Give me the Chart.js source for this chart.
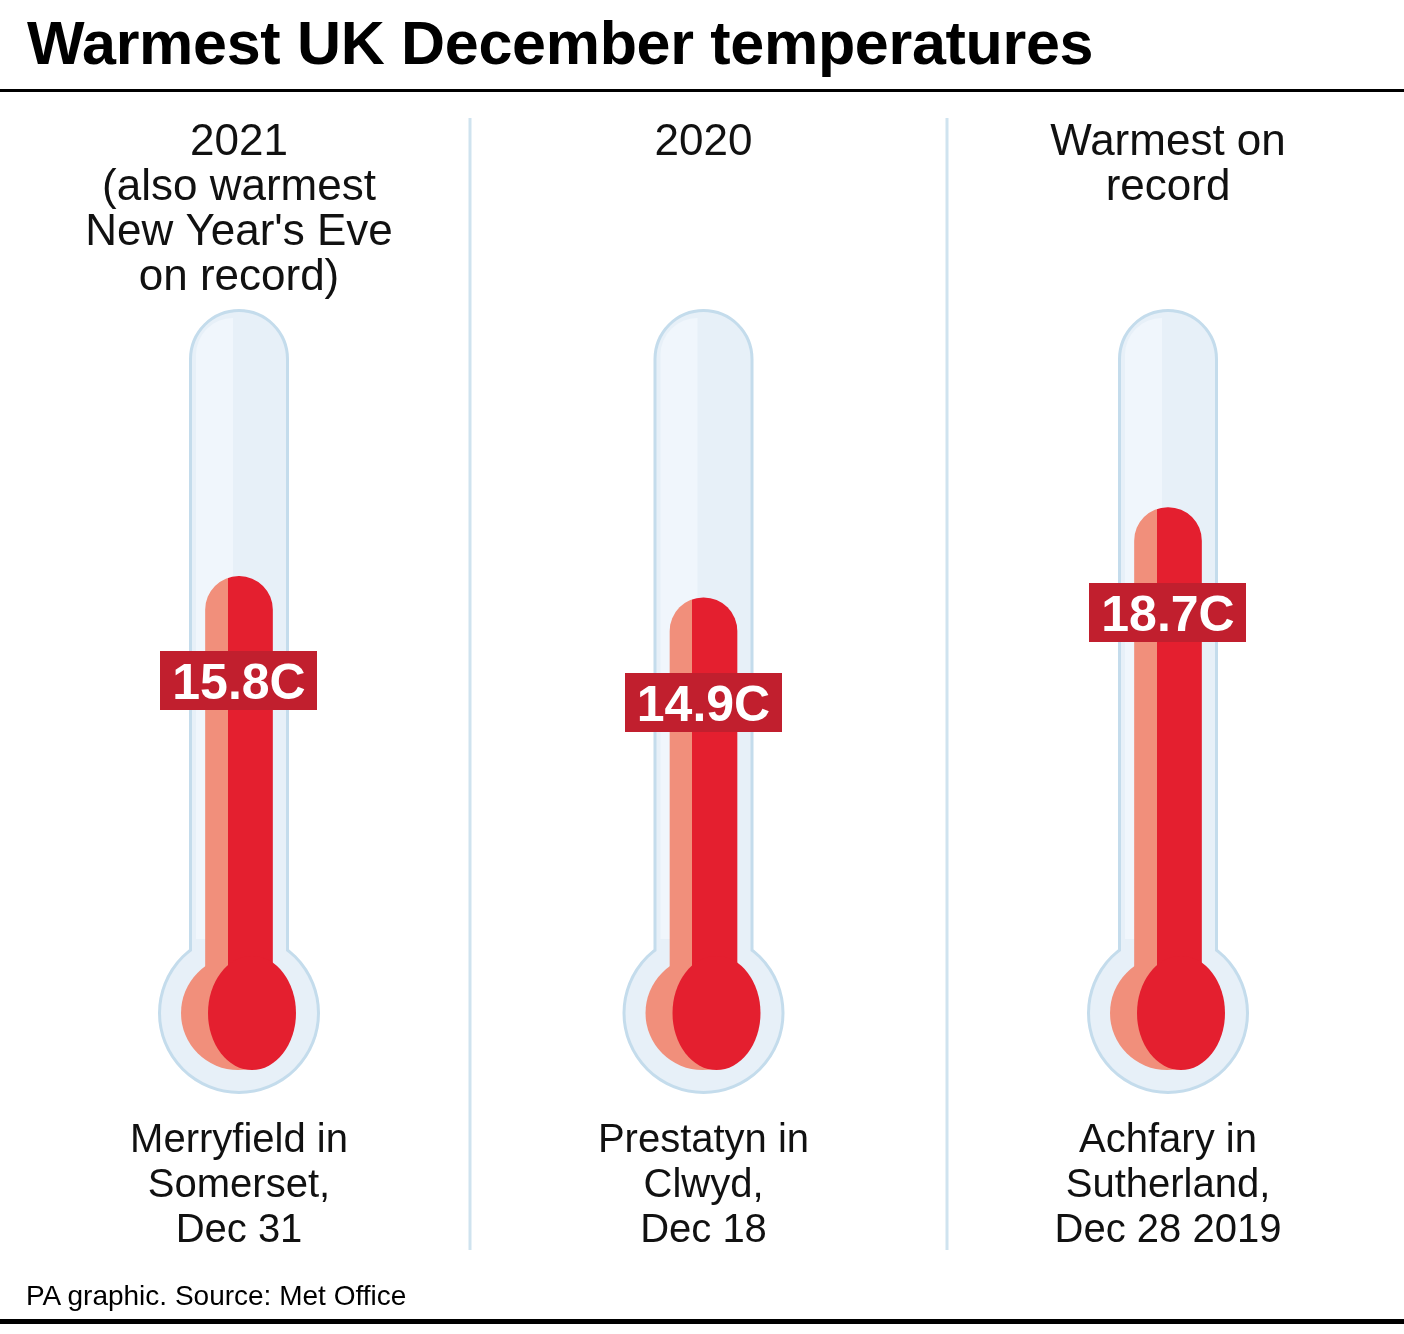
<!DOCTYPE html>
<html>
<head>
<meta charset="utf-8">
<script src="https://cdn.jsdelivr.net/npm/chart.js@4"></script>
<style>
  html, body { margin: 0; padding: 0; background: #fff; }
  #wrap { position: relative; width: 1404px; height: 1334px; overflow: hidden; }
  #chart { position: absolute; left: 0; top: 0; }
  .title { position: absolute; left: 27px; top: 13px; font: bold 61px "Liberation Sans", Arial, sans-serif; line-height: 61px; color: #000; white-space: nowrap; letter-spacing: -0.3px; }
  .footer { position: absolute; left: 26px; top: 1282px; font: 28px "Liberation Sans", Arial, sans-serif; line-height: 28px; color: #000; white-space: nowrap; }
</style>
</head>
<body>
<div id="wrap">
  <canvas id="chart" width="1404" height="1334"></canvas>
  <div class="title">Warmest UK December temperatures</div>
  <div class="footer">PA graphic. Source: Met Office</div>
</div>
<script>
// chart data
const categories = ['2021', '2020', 'Record'];
const temps = [15.8, 14.9, 18.7];
const headerLines = [
    ['2021', '(also warmest', "New Year's Eve", 'on record)'],
    ['2020'],
    ['Warmest on', 'record']
];
const placeLines = [
    ['Merryfield in', 'Somerset,', 'Dec 31'],
    ['Prestatyn in', 'Clwyd,', 'Dec 18'],
    ['Achfary in', 'Sutherland,', 'Dec 28 2019']
];

const RED = '#e41f2f';
const SALMON = '#f18f7b';
const LABEL_BG = '#c11f2e';
const GLASS = '#e7f0f8';
const GLASS_LIGHT = '#f0f6fc';
const GLASS_EDGE = '#c4dcec';
const FONT = '"Liberation Sans", Arial, sans-serif';

// thermometer geometry (pixels)
const TUBE_TOP = 312;
const TUBE_W = 94;
const BULB_Y = 1013;
const BULB_R = 78;
const MERC_R = 57;
const DIVIDERS = [470, 947];

const thermoPlugin = {
    id: 'thermo',
    beforeDraw(chart) {
        const ctx = chart.ctx;
        ctx.save();
        // rule under title and at the bottom
        ctx.fillStyle = '#000';
        ctx.fillRect(0, 89, 1404, 3);
        ctx.fillRect(0, 1319, 1404, 5);
        // column dividers
        ctx.strokeStyle = '#cfe3ef';
        ctx.lineWidth = 3;
        DIVIDERS.forEach(dx => {
            ctx.beginPath();
            ctx.moveTo(dx, 118);
            ctx.lineTo(dx, 1250);
            ctx.stroke();
        });
        // header and place text
        const xs = categories.map((c, i) => chart.scales.x.getPixelForValue(i));
        ctx.fillStyle = '#111';
        ctx.textAlign = 'center';
        ctx.textBaseline = 'alphabetic';
        ctx.font = '44px ' + FONT;
        headerLines.forEach((lines, i) => {
            lines.forEach((t, k) => ctx.fillText(t, xs[i], 155 + k * 45));
        });
        ctx.font = '40px ' + FONT;
        placeLines.forEach((lines, i) => {
            lines.forEach((t, k) => ctx.fillText(t, xs[i], 1152 + k * 45));
        });
        ctx.restore();
    },
    beforeDatasetsDraw(chart) {
        const ctx = chart.ctx;
        ctx.save();
        categories.forEach((c, i) => {
            const x = chart.scales.x.getPixelForValue(i);
            // glass outline
            ctx.beginPath();
            ctx.roundRect(x - TUBE_W / 2, TUBE_TOP, TUBE_W, BULB_Y - TUBE_TOP, [TUBE_W / 2, TUBE_W / 2, 0, 0]);
            ctx.moveTo(x + BULB_R, BULB_Y);
            ctx.arc(x, BULB_Y, BULB_R, 0, Math.PI * 2);
            ctx.strokeStyle = GLASS_EDGE;
            ctx.lineWidth = 6;
            ctx.stroke();
            ctx.fillStyle = GLASS;
            ctx.fill();
            // lighter left half of the tube
            ctx.beginPath();
            ctx.roundRect(x - TUBE_W / 2 + 4, TUBE_TOP + 6, TUBE_W / 2 - 10, BULB_Y - TUBE_TOP - 80, [40, 0, 0, 0]);
            ctx.fillStyle = GLASS_LIGHT;
            ctx.fill();
            // salmon bulb
            ctx.beginPath();
            ctx.arc(x - 1, BULB_Y, MERC_R, 0, Math.PI * 2);
            ctx.fillStyle = SALMON;
            ctx.fill();
        });
        ctx.restore();
    },
    afterDatasetsDraw(chart) {
        const ctx = chart.ctx;
        const meta = chart.getDatasetMeta(0);
        ctx.save();
        categories.forEach((c, i) => {
            const x = chart.scales.x.getPixelForValue(i);
            // red part of the bulb
            ctx.beginPath();
            ctx.ellipse(x + 13, BULB_Y, MERC_R - 13, MERC_R, 0, 0, Math.PI * 2);
            ctx.fillStyle = RED;
            ctx.fill();
            // value label
            const top = meta.data[i].y;
            const text = temps[i].toFixed(1) + 'C';
            ctx.font = 'bold 50px ' + FONT;
            const w = ctx.measureText(text).width + 24;
            ctx.fillStyle = LABEL_BG;
            ctx.fillRect(Math.round(x - w / 2), Math.round(top + 75), Math.round(w), 59);
            ctx.fillStyle = '#fff';
            ctx.textAlign = 'center';
            ctx.textBaseline = 'alphabetic';
            ctx.fillText(text, x, top + 75 + 48);
        });
        ctx.restore();
    }
};

new Chart(document.getElementById('chart'), {
    type: 'bar',
    data: {
        labels: categories,
        datasets: [{
            data: temps,
            base: -3,
            barThickness: 67,
            borderRadius: 34,
            borderSkipped: 'start',
            backgroundColor: function(context) {
                const chart = context.chart;
                if (!chart.chartArea || !chart.scales.x) return RED;
                const x = chart.scales.x.getPixelForValue(context.dataIndex);
                const g = chart.ctx.createLinearGradient(x - 33.5, 0, x + 33.5, 0);
                g.addColorStop(0, SALMON);
                g.addColorStop(0.33, SALMON);
                g.addColorStop(0.33, RED);
                g.addColorStop(1, RED);
                return g;
            }
        }]
    },
    options: {
        responsive: false,
        animation: false,
        layout: {
            padding: { top: 239, bottom: 144.5, left: 6.75, right: 3.75 }
        },
        scales: {
            x: { display: false },
            y: { display: false, min: -10, max: 30 }
        },
        plugins: {
            legend: { display: false },
            tooltip: { enabled: false }
        }
    },
    plugins: [thermoPlugin]
});
</script>
</body>
</html>
